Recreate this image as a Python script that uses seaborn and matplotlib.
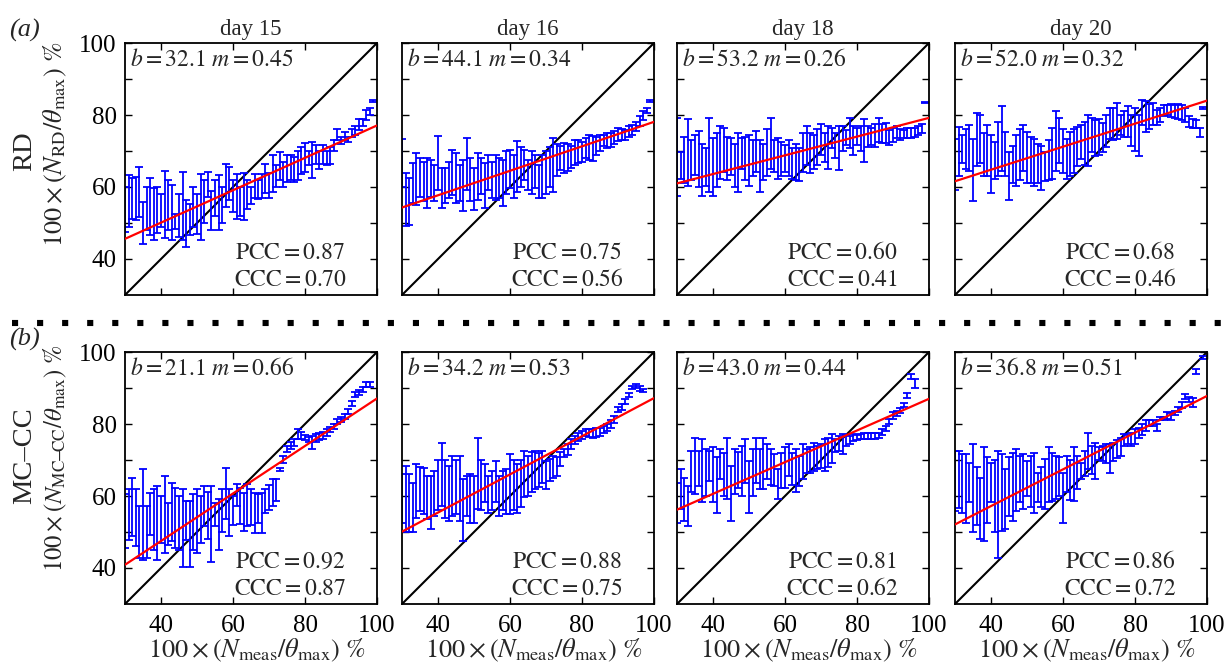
import numpy as np
import matplotlib
matplotlib.use("Agg")
import matplotlib.pyplot as plt
import seaborn as sns
from matplotlib.lines import Line2D

nan = np.nan

# ---------------- data ----------------
x_vals = list(range(30, 100))
days = ["day 15", "day 16", "day 18", "day 20"]
row_names = ["RD", "MC\u2013CC"]
row_subs = [r"\mathrm{RD}", r"\mathrm{MC\!\!-\!\!CC}"]
panel_tags = ["(a)", "(b)"]
x_ticks = [40, 60, 80, 100]
y_ticks = [40, 50, 60, 70, 80, 90, 100]
y_tick_labels = ["40", "", "60", "", "80", "", "100"]
axis_range = [30, 100]

rd_b = [32.1, 44.1, 53.2, 52.0]
rd_m = [0.45, 0.34, 0.26, 0.32]
rd_pcc = [0.87, 0.75, 0.60, 0.68]
rd_ccc = [0.70, 0.56, 0.41, 0.46]
mc_b = [21.1, 34.2, 43.0, 36.8]
mc_m = [0.66, 0.53, 0.44, 0.51]
mc_pcc = [0.92, 0.88, 0.81, 0.86]
mc_ccc = [0.87, 0.75, 0.62, 0.72]

# RD, day 15
rd15_hi = [60, 63.3, 62.4, 62.8, 65.6, 55.9, 60, 62.4, 59.6, 60,
           58, 64.5, 62, 60.5, 52.6, 58, 64.2, 56.3, 55.4, 60,
           58, 63.7, 62, 64.2, 58.9, 62, 63.3, 60, 66.5, 65.6,
           62, 63.7, 60, 63.9, 62, 60, 63.7, 62, 63.7, 66.5,
           64, 68.8, 66, 69.8, 67, 68.8, 69, 68.3, 70, 71.1,
           72.1, 70, 72.5, 71.6, 70, 71.6, 70, 71.1, 73, 76.2,
           74, 75.3, 74, 76.2, 77, 78.9, 79, 81.3, 82, 84.2]
rd15_lo = [47.6, 49, 51.2, 50.8, 51.7, 44.3, 48, 46.6, 45.2, 47.3,
           49, 45.7, 48, 45.2, 48.3, 46, 45.2, 43.4, 46.6, 49,
           47, 45.2, 50, 57.2, 48, 52, 48, 50, 54.5, 56.3,
           53, 51.2, 52, 50.8, 54, 55.4, 57, 56.8, 57, 58.2,
           57, 58.6, 60, 61.9, 60, 61.4, 62, 61.4, 62, 63.7,
           64.2, 66, 62.4, 66.5, 65, 66.5, 66, 66.5, 70, 73,
           72, 73, 72.5, 73.9, 74.5, 75.8, 77, 78.5, 80, 83.6]
# RD, day 16
rd16_hi = [73.4, 63.8, 62.5, 66.6, 69.4, 68, 67, 68, 67.6, 66,
           74.1, 65.2, 65.2, 67, 70.4, 69.4, 66, 67.6, 73.6, 68,
           65.2, 69.4, 68, 66.6, 69, 67, 69, 68, 67.6, 70,
           70.4, 69, 72.7, 71, 70.4, 67.6, 70, 69, 66.2, 69,
           70, 71, 73.6, 72, 71.3, 72.2, 72, 71.3, 73, 73.1,
           72.5, 73.5, 74.5, 74.1, 74, 74.5, 74.5, 75, 75, 75.5,
           76.4, 76, 75.9, 77, 77.3, 78, 79.6, 81, 82, 84.3]
rd16_lo = [60.1, 49.3, 49.4, 55.5, 55, 57.3, 56, 54.1, 57.3, 56,
           59.2, 54.1, 55.5, 57, 57.8, 55.5, 56, 53.2, 59.2, 56,
           53.6, 56.4, 58, 54.1, 59.2, 57, 56.4, 57, 54.6, 58,
           59.7, 57, 58.7, 60, 62, 59.2, 58, 59.7, 56.9, 56.9,
           58, 60, 58.7, 63, 64.8, 63.8, 64.5, 65.2, 66, 66.6,
           67, 68, 67.6, 67.1, 69, 70, 71.3, 70.8, 71, 72,
           72.7, 73, 73.1, 74, 74.5, 75.5, 76.9, 78.5, 80.6, 83.7]
# RD, day 18
rd18_hi = [79.2, 69.8, 74, 78.8, 73, 74.5, 75.5, 72, 70.8, 79.2,
           73.6, 75, 76.9, 76.4, 74, 73.6, 72, 75, 73.6, 74,
           74.5, 73, 75.5, 73.1, 72, 76, 79.2, 73.1, 73.6, 72.5,
           71.7, 73, 70.8, 72, 70.8, 75, 76.9, 75, 74.5, 76,
           77.4, 75, 76.9, 76.4, 75, 76.9, 77, 75.9, 79.2, 77,
           76.4, 77, 78.8, 77, 76.4, 77.5, 79.2, 77.5, 77.9, 75.9,
           76.5, 76.9, 76, 75.9, 76.5, 76.4, 76.5, 76.9, 77.4, 83.7]
rd18_lo = [57.5, 62.3, 61, 60.4, 62, 63.2, 60, 57.5, 60.4, 58.5,
           57.5, 60, 62.3, 64.2, 62, 63.2, 60, 58.5, 65.1, 62,
           60.4, 63, 64.2, 58.5, 62, 63, 65.1, 64.2, 62.3, 63,
           64.2, 63, 62.3, 62, 61.8, 64.2, 66, 64, 65.1, 66,
           68.9, 67, 65.1, 70.8, 68, 64.6, 70, 71.7, 70.8, 69,
           71.7, 70, 67, 71, 71.7, 71, 72.6, 72.2, 72.2, 71.7,
           72.5, 73.6, 73, 73.6, 73.5, 73.6, 74, 74.5, 75, 83.3]
# RD, day 20
rd20_hi = [73.4, 76.7, 74.4, 76, 77.2, 73.4, 80.5, 80.1, 75, 77.2,
           74.4, 72.5, 78, 82.4, 75.3, 69.7, 71.5, 74.4, 76, 77.2,
           75.3, 74, 73.4, 72, 71.5, 69.7, 73, 76.3, 81, 79.1,
           76, 73.4, 75.3, 76, 76.7, 77.2, 78, 80.1, 79.1, 78.6,
           79, 77.7, 80, 81.9, 82, 83.4, 80.1, 81, 82.4, 80,
           81.9, 80.1, 84.3, 83.8, 83, 83.4, 81.5, 82, 82.9, 82.9,
           83, 82.9, 83, 82.9, 82, 79.6, 79, 78.6, 76.3, 82.3]
rd20_lo = [59.3, 63, 66.8, 65, 64.5, 56, 65.9, 66.8, 63, 63,
           58.3, 62.1, 63, 64.5, 63, 56.4, 61.2, 60.2, 62, 64.5,
           61.2, 61, 60.2, 61, 59.3, 61.6, 62, 62.1, 64.5, 66.8,
           64, 62.1, 63, 64, 65.9, 67.8, 66, 65.9, 69.7, 68.7,
           69, 69.7, 71, 73.4, 73, 73.4, 74.4, 74, 73.9, 71.5,
           70, 68.7, 77.2, 75.3, 76, 77.2, 77.2, 78, 79.6, 80.1,
           79.5, 79.1, 79, 78.6, 78, 76.7, 76.5, 76.3, 73.9, 81.7]
# MC-CC, day 15
mc15_hi = [60.5, 61.9, 65.1, 62, 57.2, 67.5, 57.2, 60.9, 62, 62.8,
           60, 65.6, 58.1, 63.7, 62.3, 60, 61.9, 58.6, 58.6, 60.5,
           62, 60, 62.8, 61, 62.8, 58.1, 59.1, 62, 67.9, 61.9,
           60, 63.3, 62.3, 60.9, 63.3, 62, 60.9, 60.5, 60.9, 61.9,
           63, 64.7, 64.7, 67.9, 71.2, 74, 75, 75.9, 78.7, 77.8,
           77, 76.4, 76.8, 77.3, 77.5, 77.8, 78.7, 79.2, 80, 81.5,
           82, 82.9, 84.3, 86.5, 89, 89.5, 90.4, 91.8, 91.8, nan]
mc15_lo = [45.5, 47.9, 48.8, 46, 42.7, 42.2, 42.7, 49.3, 45, 42.2,
           47, 44.1, 46.4, 47.4, 45.5, 45, 40.4, 47.9, 40.4, 45,
           44.1, 46.9, 51.6, 48, 41.8, 51.6, 45, 50, 53.5, 48.8,
           52, 57.2, 52.1, 50.2, 51.6, 52, 49.7, 52.5, 49.7, 55.3,
           56, 57.2, 58.6, 67, 69.3, 72.1, 73, 74, 75.9, 75.9,
           75.5, 75, 73.1, 75, 75.5, 75.9, 76.8, 77.8, 78.5, 80.1,
           80.5, 81.5, 82.9, 85, 87.6, 88, 89, 90.4, 90.4, nan]
# MC-CC, day 16
mc16_hi = [66, 68.4, 66, 63.7, 68.8, 68, 67.9, 65.6, 65.6, 67,
           70, 74.8, 70, 68.4, 71.1, 70, 71.1, 64.7, 65.6, 66,
           65.6, 76.2, 70, 68.8, 65.6, 67, 69.8, 65.6, 67, 67.4,
           71.6, 70, 68.8, 70, 72.5, 71, 72.1, 72.5, 72, 72.5,
           69.8, 70.2, 71, 70.7, 72.1, 73, 74.5, 75.8, 76.7, 77.6,
           78, 78.5, 78.5, 78.5, 79, 79, 79.5, 79.9, 81, 82.2,
           84.6, 85.5, 86.9, 88.5, 90.6, 91, 90.6, 89.8, nan, nan]
mc16_lo = [52.6, 49.9, 50, 49.9, 54, 55.9, 55, 53.6, 50.8, 54.5,
           56, 57.3, 54, 53.1, 54.5, 55, 53.1, 47.5, 54.5, 52.6,
           52.6, 56.3, 56, 58.2, 55.4, 56, 58.2, 54.5, 56, 54.9,
           54.9, 56, 55.4, 57, 59.6, 60, 61, 61.9, 62.5, 63.7,
           61.9, 64.2, 65, 65.6, 68.4, 70.7, 71.5, 73, 74.4, 75.3,
           75.8, 76.7, 76.5, 76.2, 76.5, 76.7, 77.5, 78.1, 79, 80.4,
           83.2, 84, 85.5, 87.5, 89.6, 90, 89.2, 88.9, nan, nan]
# MC-CC, day 18
mc18_hi = [63.7, 67.4, 65, 62.8, 72.5, 76.2, 72.5, 75.8, 73, 72.5,
           73.5, 70.7, 73, 72, 76.2, 68.4, 73, 72.1, 74, 75.8,
           69.8, 73, 76.2, 73, 76.2, 74.4, 73, 71.6, 67.4, 72,
           73.5, 74.4, 72, 73, 71.1, 74.4, 73, 73.5, 74.8, 74,
           74.4, 75.8, 76, 77.2, 75.8, 76.7, 77.2, 77, 76.7, 77.2,
           77, 77.2, 77.6, 77.5, 77.6, 77.5, 77.6, 78.5, 79.5, 81.3,
           83.2, 83.6, 84.5, 85.9, 88.7, 93.8, 92.4, nan, nan, nan]
mc18_lo = [52.6, 56.3, 53, 51.7, 61, 60.5, 62.8, 58.2, 60, 64.2,
           58.2, 55.4, 64.7, 60, 59.1, 53.1, 60.5, 62.3, 60, 63.7,
           55.4, 60, 63.7, 61.9, 61.9, 64.7, 63, 62.8, 59.1, 62.3,
           62.3, 65.6, 63, 61, 62.8, 64.7, 66.5, 66.5, 67, 67.5,
           67.9, 67, 68, 69.3, 72.1, 72.5, 71.6, 74, 74.4, 75.3,
           75.5, 75.8, 75.8, 75.8, 75.8, 75.8, 76.2, 77, 78.1, 79.9,
           81.3, 82.2, 83, 84.6, 87.3, 92.4, 90.1, nan, nan, nan]
# MC-CC, day 20
mc20_hi = [72.5, 72.5, 71.6, 71.6, 69.3, 74.4, 68, 65.1, 73.5, 70.7,
           69.3, 70, 72.5, 71.6, 67.4, 70.7, 72, 73, 71.1, 71.6,
           69.8, 71, 72, 66.5, 68, 70.2, 73.5, 72, 71.1, 70.7,
           66.5, 71, 70, 73.5, 71, 69.3, 72.5, 77.6, 74, 74.8,
           73.5, 74, 74.4, 74.4, 74.8, 75.5, 76.2, 77.2, 77, 77.5,
           78.5, 79, 80, 81, 81, 81, 80, 82, 82, 83.2,
           83, 83.6, 84.6, 86, 88.3, 87.5, 87.3, 95.2, nan, 98.9]
mc20_lo = [55.9, 56.8, 55.4, 52.6, 58.2, 49.9, 52, 48, 47.5, 52.6,
           58.2, 50, 42.9, 50.3, 50.8, 54.5, 53, 55.9, 58.2, 56.3,
           60, 57, 55.4, 58.2, 57, 56.3, 58.2, 58.6, 59.1, 60,
           52.6, 61, 59, 58.6, 62, 64.7, 65.6, 67.4, 66, 64.7,
           70, 69.8, 69.3, 66.5, 69.8, 70.5, 71.1, 73.9, 74.4, 74,
           74.4, 76, 77, 78, 79.5, 79.5, 78, 81, 81, 81.3,
           81, 82.5, 83.2, 84.5, 86.9, 86, 84.6, 93.8, nan, 98]

bounds = [[(rd15_lo, rd15_hi), (rd16_lo, rd16_hi), (rd18_lo, rd18_hi), (rd20_lo, rd20_hi)],
          [(mc15_lo, mc15_hi), (mc16_lo, mc16_hi), (mc18_lo, mc18_hi), (mc20_lo, mc20_hi)]]
fits = [(rd_b, rd_m, rd_pcc, rd_ccc), (mc_b, mc_m, mc_pcc, mc_ccc)]

# ---------------- style ----------------
sns.set_theme(style="ticks")
plt.rcParams["font.family"] = ["Liberation Serif", "DejaVu Serif"]
plt.rcParams["mathtext.fontset"] = "stix"
plt.rcParams["axes.edgecolor"] = "black"
plt.rcParams["axes.linewidth"] = 1.3

W, H = 1226, 668
fig = plt.figure(figsize=(W / 100, H / 100), dpi=100)

col_left = [125, 402, 677, 955]
row_top = [43, 352]
size = 252

def fx(px):
    return px / W

def fy(py):
    return 1 - py / H

for r in range(2):
    b_list, m_list, pcc_list, ccc_list = fits[r]
    for c in range(4):
        ax = fig.add_axes([fx(col_left[c]), fy(row_top[r] + size), size / W, size / H])
        lo = np.array(bounds[r][c][0], dtype=float)
        hi = np.array(bounds[r][c][1], dtype=float)
        xs = np.array(x_vals, dtype=float)
        mid = (lo + hi) / 2
        half = (hi - lo) / 2
        # identity line
        sns.lineplot(x=axis_range, y=axis_range, ax=ax, color="black", lw=1.5, zorder=1)
        ax.errorbar(xs, mid, yerr=half, fmt="none", ecolor="#0000ff",
                    elinewidth=1.3, capsize=2.9, capthick=1.3, zorder=2)
        # fitted line
        fit_x = np.array(axis_range, dtype=float)
        sns.lineplot(x=fit_x, y=b_list[c] + m_list[c] * fit_x, ax=ax,
                     color="#ff0000", lw=1.6, zorder=3)
        ax.set_xlim(axis_range)
        ax.set_ylim(axis_range)
        ax.set_xticks(x_ticks)
        ax.set_yticks(y_ticks)
        if r == 1:
            ax.set_xticklabels([str(t) for t in x_ticks])
        else:
            ax.set_xticklabels([])
        if c == 0:
            ax.set_yticklabels(y_tick_labels)
        else:
            ax.set_yticklabels([])
        ax.tick_params(direction="in", top=True, right=True, length=5, width=1.0,
                       labelsize=18, pad=6, colors="black")
        ax.tick_params(axis="x", pad=8)
        for s in ax.spines.values():
            s.set_visible(True)
            s.set_linewidth(1.3)
            s.set_color("black")
        ax.set_xlabel("")
        ax.set_ylabel("")
        ax.text(0.02, 0.975, r"$b = %.1f\ m = %.2f$" % (b_list[c], m_list[c]),
                transform=ax.transAxes, ha="left", va="top", fontsize=17)
        ax.text(0.655, 0.165, r"$\mathrm{PCC} = %.2f$" % pcc_list[c],
                transform=ax.transAxes, ha="center", va="center", fontsize=17)
        ax.text(0.655, 0.058, r"$\mathrm{CCC} = %.2f$" % ccc_list[c],
                transform=ax.transAxes, ha="center", va="center", fontsize=17)
        if r == 0:
            ax.set_title(days[c], fontsize=16.5, pad=6)
        if r == 1:
            fig.text(fx(col_left[c] + size / 2 + 6), fy(650),
                     r"$100 \times (N_{\mathrm{meas}}/\theta_{\max})\ \%$",
                     ha="center", va="center", fontsize=19)

# row labels
label_y_center = [151, 456]
ylab_center = [144, 458]
ylab_size = [19, 17.8]
for r in range(2):
    fig.text(fx(25), fy(label_y_center[r]), row_names[r], rotation=90,
             ha="center", va="center", fontsize=20.5)
    fig.text(fx(55), fy(ylab_center[r]),
             r"$100 \times (N_{%s}/\theta_{\max})\ \%%$" % row_subs[r],
             rotation=90, ha="center", va="center", fontsize=ylab_size[r])
    fig.text(fx(9), fy(row_top[r] - 13), panel_tags[r], ha="left", va="center",
             fontsize=19, style="italic")

# dotted separator
sep = Line2D([fx(12), fx(1226)], [fy(323), fy(323)], transform=fig.transFigure,
             color="black", lw=4.4, linestyle=(0, (1, 3.1)), solid_capstyle="butt",
             dash_capstyle="butt")
fig.add_artist(sep)

fig.savefig("out.png", dpi=100)
